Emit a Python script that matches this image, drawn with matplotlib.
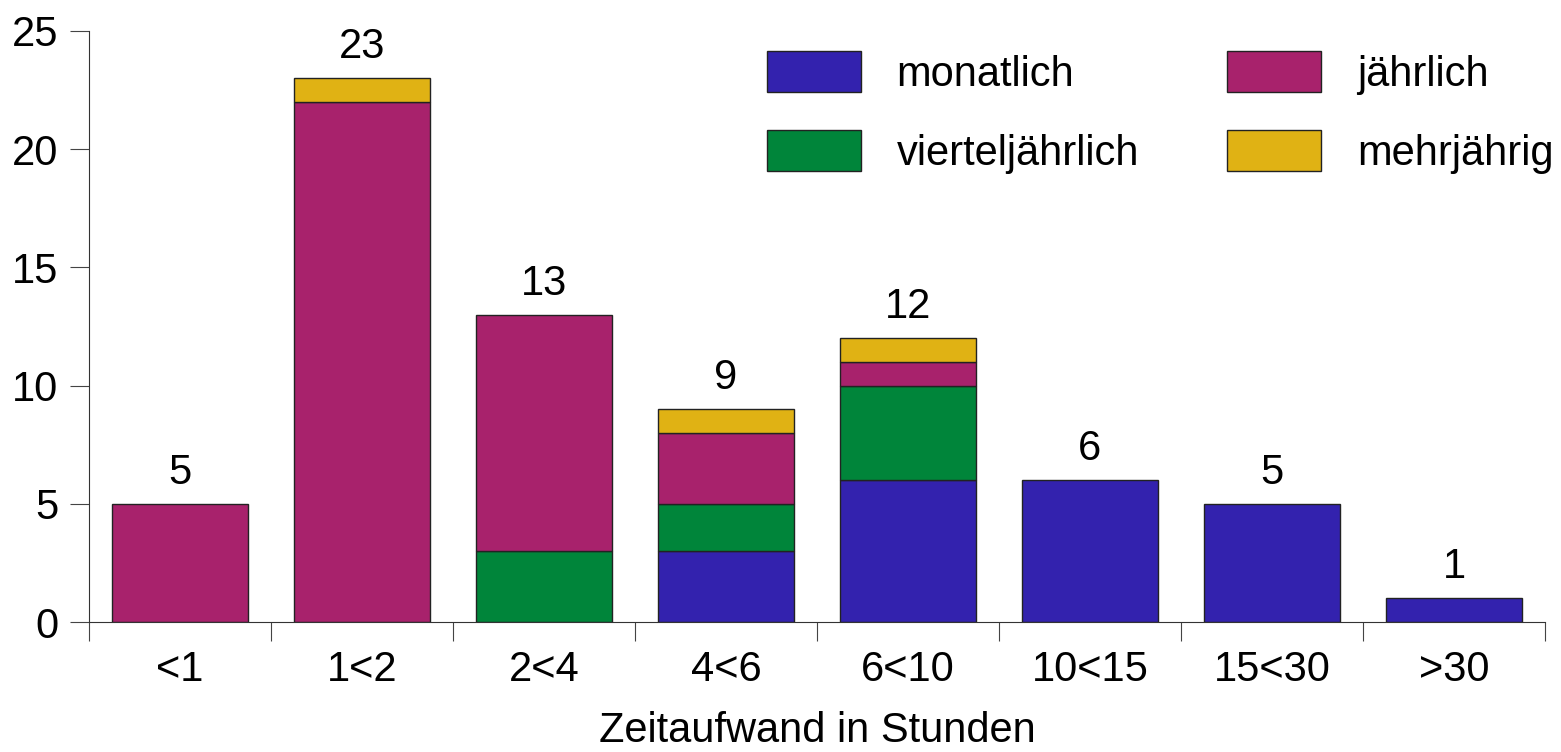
import numpy as np
import matplotlib
matplotlib.use("Agg")
import matplotlib.pyplot as plt
from matplotlib.ticker import FixedLocator

plt.rcParams['font.family'] = ['Liberation Sans', 'DejaVu Sans']

categories = ["<1", "1<2", "2<4", "4<6", "6<10", "10<15", "15<30", ">30"]
monatlich = [0, 0, 0, 3, 6, 6, 5, 1]
vierteljaehrlich = [0, 0, 3, 2, 4, 0, 0, 0]
jaehrlich = [5, 22, 10, 3, 1, 0, 0, 0]
mehrjaehrig = [0, 1, 0, 1, 1, 0, 0, 0]

series = [
    ("monatlich", monatlich, "#3322AE"),
    ("vierteljährlich", vierteljaehrlich, "#00853A"),
    ("jährlich", jaehrlich, "#A8226C"),
    ("mehrjährig", mehrjaehrig, "#E0B214"),
]

fs = 30

fig = plt.figure(figsize=(15.61, 7.52), dpi=100)
ax = fig.add_axes([89 / 1561, 130 / 752, 1456 / 1561, 591 / 752])

x = np.arange(len(categories)) + 0.5
bottom = np.zeros(len(categories))
handles = []
for name, vals, col in series:
    vals = np.array(vals, dtype=float)
    m = vals > 0
    ax.bar(x[m], vals[m], 0.75, bottom=bottom[m], color=col,
           edgecolor="#222222", linewidth=1.0)
    handles.append(plt.Rectangle((0, 0), 1, 1, facecolor=col, edgecolor="#222222", linewidth=1.0))
    bottom += vals

# totals above the stacks
for xi, tot in zip(x, bottom):
    ax.annotate(f"{int(tot)}", (xi, tot), xytext=(0, 8), textcoords="offset points",
                ha="center", va="bottom", fontsize=fs)

ax.set_xlim(0, len(categories))
ax.set_ylim(0, 25)
ax.set_yticks([0, 5, 10, 15, 20, 25])
ax.xaxis.set_major_locator(FixedLocator(np.arange(len(categories) + 1)))
ax.xaxis.set_minor_locator(FixedLocator(x))
ax.set_xticklabels([])
ax.set_xticklabels(categories, minor=True)
ax.tick_params(axis="x", which="major", length=14, width=0.8, color="#444444", direction="out")
ax.tick_params(axis="x", which="minor", length=0, pad=20, labelsize=fs)
ax.tick_params(axis="y", length=14, width=0.8, color="#444444", direction="out", pad=8, labelsize=fs)

for s in ["top", "right"]:
    ax.spines[s].set_visible(False)
for s in ["left", "bottom"]:
    ax.spines[s].set_linewidth(0.8)
    ax.spines[s].set_color("#333333")

ax.set_xlabel("Zeitaufwand in Stunden", fontsize=fs, labelpad=15)

ax.legend(handles, [s[0] for s in series], ncol=2,
          loc="upper left", bbox_to_anchor=(767 / 1561, 1 - 51 / 752),
          bbox_transform=fig.transFigure, frameon=False, fontsize=fs,
          handlelength=2.25, handleheight=1.13, handletextpad=0.86,
          labelspacing=0.85, columnspacing=2.12, borderpad=0, borderaxespad=0)

fig.savefig("out.png", dpi=100)
